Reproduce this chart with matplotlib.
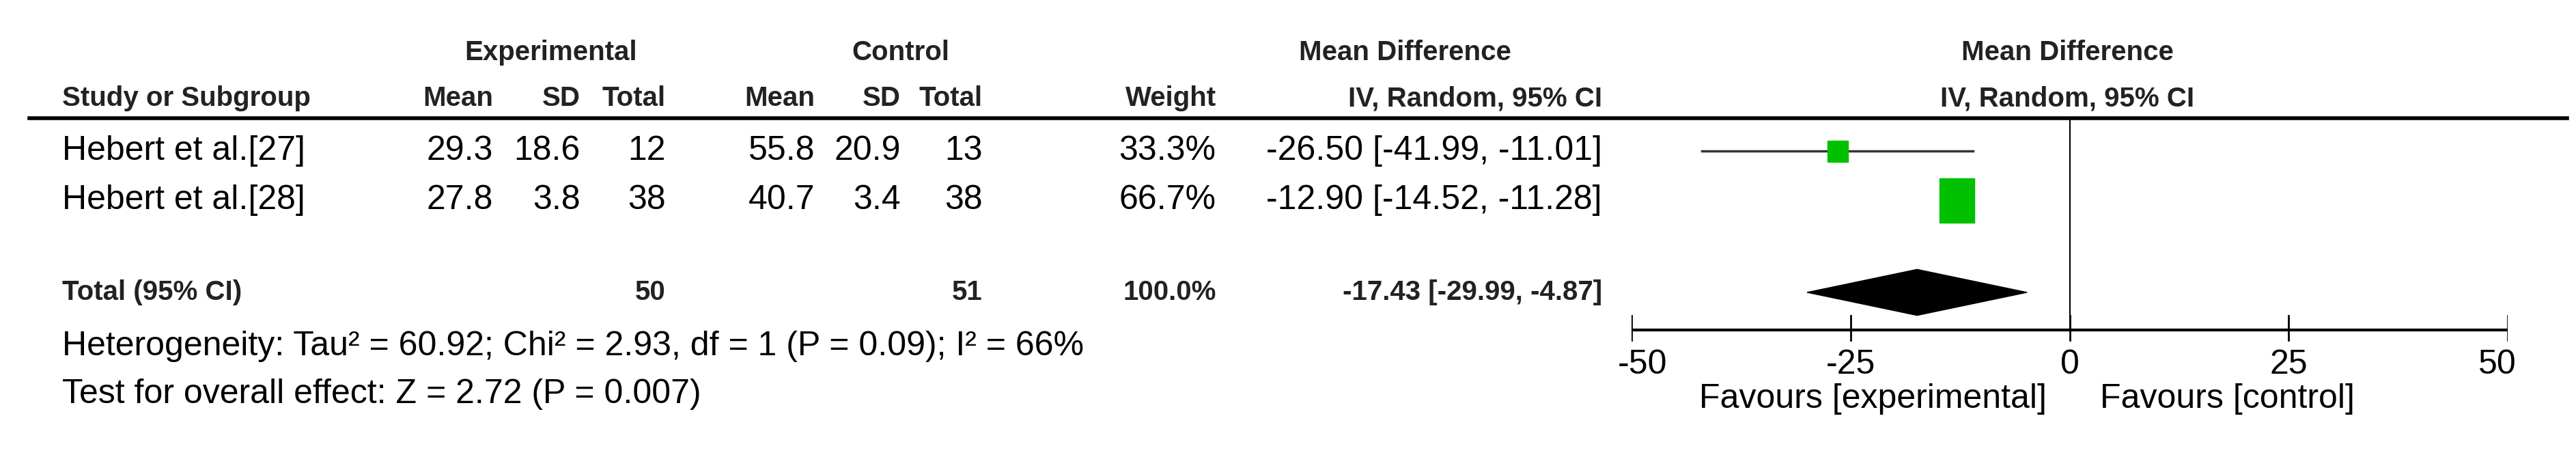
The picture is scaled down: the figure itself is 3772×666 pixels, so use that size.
import matplotlib
import numpy as np

matplotlib.use("Agg")
import matplotlib.pyplot as plt
from matplotlib.patches import Polygon, Rectangle

plt.rcParams["font.family"] = ["Liberation Sans", "DejaVu Sans"]

studies = ["Hebert et al.[27]", "Hebert et al.[28]"]
exp_mean = [29.3, 27.8]
exp_sd = [18.6, 3.8]
exp_n = [12, 38]
ctl_mean = [55.8, 40.7]
ctl_sd = [20.9, 3.4]
ctl_n = [13, 38]
weights = [33.3, 66.7]
md = [-26.50, -12.90]
ci_lo = [-41.99, -14.52]
ci_hi = [-11.01, -11.28]
total_md, total_lo, total_hi = -17.43, -29.99, -4.87
ticks = [-50, -25, 0, 25, 50]

W, H = 1568, 277  # layout grid in reference display pixels
fig = plt.figure(figsize=(37.73, 6.66), dpi=100)
ax = fig.add_axes([0, 0, 1, 1])
ax.set_xlim(0, W)
ax.set_ylim(H, 0)
ax.axis("off")

fsb = 29
fsn = 36
bold = dict(fontsize=fsb, fontweight="bold", color="#222222")
norm = dict(fontsize=fsn, color="black")

ax.text(335, 32, "Experimental", ha="center", va="center", **bold)
ax.text(548, 32, "Control", ha="center", va="center", **bold)
ax.text(855, 32, "Mean Difference", ha="center", va="center", **bold)
ax.text(1258, 32, "Mean Difference", ha="center", va="center", **bold)
ax.text(38, 60, "Study or Subgroup", ha="left", va="center", **bold)
cols = [(300, "Mean"), (353, "SD"), (405, "Total"), (496, "Mean"), (548, "SD"),
        (598, "Total"), (740, "Weight"), (975, "IV, Random, 95% CI")]
for x, t in cols:
    ax.text(x, 60, t, ha="right", va="center", **bold)
ax.text(1258, 60, "IV, Random, 95% CI", ha="center", va="center", **bold)
ax.plot([18, 1562], [72, 72], color="black", lw=4)

rows_y = [92, 122]
for i, y in enumerate(rows_y):
    vals = [f"{exp_mean[i]}", f"{exp_sd[i]}", f"{exp_n[i]}", f"{ctl_mean[i]}",
            f"{ctl_sd[i]}", f"{ctl_n[i]}", f"{weights[i]}%",
            f"{md[i]:.2f} [{ci_lo[i]:.2f}, {ci_hi[i]:.2f}]"]
    ax.text(38, y, studies[i], ha="left", va="center", **norm)
    for (x, _), v in zip(cols, vals):
        ax.text(x, y, v, ha="right", va="center", **norm)

ty = 178
ax.text(38, ty, "Total (95% CI)", ha="left", va="center", **bold)
ax.text(405, ty, f"{sum(exp_n)}", ha="right", va="center", **bold)
ax.text(598, ty, f"{sum(ctl_n)}", ha="right", va="center", **bold)
ax.text(740, ty, "100.0%", ha="right", va="center", **bold)
ax.text(975, ty, f"{total_md:.2f} [{total_lo:.2f}, {total_hi:.2f}]", ha="right", va="center", **bold)
ax.text(38, 211, "Heterogeneity: Tau² = 60.92; Chi² = 2.93, df = 1 (P = 0.09); I² = 66%",
        ha="left", va="center", **norm)
ax.text(38, 240, "Test for overall effect: Z = 2.72 (P = 0.007)", ha="left", va="center", **norm)

# forest panel: same vertical pixel grid, x in mean-difference units
x0, x1 = 993 / W, 1526 / W
fa = fig.add_axes([x0, 0, x1 - x0, 1])
fa.set_xlim(-50, 50)
fa.set_ylim(H, 0)
fa.axis("off")

axis_y = 201
fa.plot([0, 0], [72, axis_y], color="black", lw=1.5)
fa.plot([-50, 50], [axis_y, axis_y], color="black", lw=3)
for t in ticks:
    fa.plot([t, t], [192, 207], color="black", lw=2)
    fa.text(t + (1.2 if t == -50 else -1.2 if t == 50 else 0), 222, f"{t}",
            ha="center", va="center", fontsize=fsn)

sizes = [(2.3, 13), (4.0, 27)]
for i, y in enumerate(rows_y):
    fa.plot([ci_lo[i], ci_hi[i]], [y, y], color="#333333", lw=2.5)
    w, h = sizes[i]
    fa.add_patch(Rectangle((md[i] - w / 2, y - h / 2), w, h, color="#00c000", zorder=3))

fa.add_patch(Polygon([[total_lo, ty], [total_md, ty - 14], [total_hi, ty], [total_md, ty + 14]],
                     closed=True, color="black"))

fa.text(-22.5, 243, "Favours [experimental]", ha="center", va="center", fontsize=fsn)
fa.text(18, 243, "Favours [control]", ha="center", va="center", fontsize=fsn)

fig.savefig("out.png", dpi=100)
